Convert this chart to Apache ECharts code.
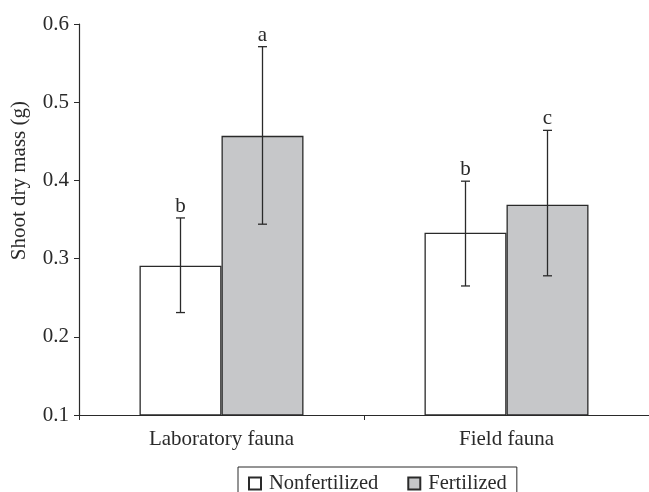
<!DOCTYPE html>
<html>
<head>
<meta charset="utf-8">
<script src="https://cdn.jsdelivr.net/npm/echarts@6/dist/echarts.min.js"></script>
<style>html,body{margin:0;padding:0;background:#fff;}#c{width:649px;height:492px;}</style>
</head>
<body>
<div id="c"></div>
<script>
var categories = ['Laboratory fauna', 'Field fauna'];
var seriesNames = ['Nonfertilized', 'Fertilized'];
var nonfertMean = [0.291, 0.333];
var nonfertLow  = [0.231, 0.265];
var nonfertHigh = [0.352, 0.399];
var fertMean = [0.457, 0.369];
var fertLow  = [0.344, 0.278];
var fertHigh = [0.571, 0.464];
var nonfertLetters = ['b', 'b'];
var fertLetters = ['a', 'c'];
var yTicks = [0.1, 0.2, 0.3, 0.4, 0.5, 0.6];

var BAR_W = 82;
var FONT = '"Liberation Serif", "DejaVu Serif", serif';
var INK = '#2a2a2a';

function errSeries(lows, highs, letters, offset) {
  return {
    type: 'custom',
    silent: true,
    z: 5,
    data: lows.map(function (l, i) { return [i, l, highs[i]]; }),
    renderItem: function (params, api) {
      var lo = api.coord([api.value(0), api.value(1)]);
      var hi = api.coord([api.value(0), api.value(2)]);
      var x = lo[0] + offset;
      var cap = 4.5;
      var st = { stroke: INK, lineWidth: 1.3 };
      return {
        type: 'group',
        children: [
          { type: 'line', shape: { x1: x, y1: lo[1], x2: x, y2: hi[1] }, style: st },
          { type: 'line', shape: { x1: x - cap, y1: lo[1], x2: x + cap, y2: lo[1] }, style: st },
          { type: 'line', shape: { x1: x - cap, y1: hi[1], x2: x + cap, y2: hi[1] }, style: st },
          { type: 'text', style: { text: letters[params.dataIndex], x: x, y: hi[1] - 1,
              textAlign: 'center', textVerticalAlign: 'bottom', fill: INK, font: '21px ' + FONT } }
        ]
      };
    }
  };
}

var chart = echarts.init(document.getElementById('c'), null, { renderer: 'canvas' });
chart.setOption({
  animation: false,
  backgroundColor: '#fff',
  textStyle: { fontFamily: FONT, color: INK },
  grid: { left: 79, top: 24, width: 574, height: 391, containLabel: false },
  legend: {
    data: seriesNames,
    left: 238,
    top: 467,
    padding: [6, 10, 14, 10],
    itemWidth: 12,
    itemHeight: 12,
    itemGap: 29,
    borderColor: INK,
    borderWidth: 1,
    icon: 'rect',
    textStyle: { fontFamily: FONT, fontSize: 20.5, color: INK, padding: [0, 0, 0, 3] }
  },
  graphic: [{
    type: 'text',
    left: 9,
    top: 101,
    rotation: Math.PI / 2,
    style: { text: 'Shoot dry mass (g)', font: '21px ' + FONT, fill: INK }
  }],
  xAxis: {
    type: 'category',
    data: categories,
    axisLine: { lineStyle: { color: INK, width: 1.2 } },
    axisTick: { show: true, length: 5, lineStyle: { color: INK } },
    axisLabel: { fontFamily: FONT, fontSize: 21, color: INK, margin: 14 }
  },
  yAxis: {
    type: 'value',
    min: 0.1,
    max: 0.6,
    interval: 0.1,
    splitLine: { show: false },
    axisLine: { show: true, lineStyle: { color: INK, width: 1.2 } },
    axisTick: { show: true, length: 5, lineStyle: { color: INK } },
    axisLabel: { fontFamily: FONT, fontSize: 21, color: INK, margin: 10,
      formatter: function (v) { return (+v).toFixed(1); } }
  },
  series: [
    { name: seriesNames[0], type: 'bar', data: nonfertMean, barWidth: BAR_W, barGap: '0%',
      itemStyle: { color: '#ffffff', borderColor: INK, borderWidth: 1.3 } },
    { name: seriesNames[1], type: 'bar', data: fertMean, barWidth: BAR_W, barGap: '0%',
      itemStyle: { color: '#c6c7c9', borderColor: INK, borderWidth: 1.3 } },
    errSeries(nonfertLow, nonfertHigh, nonfertLetters, -BAR_W / 2),
    errSeries(fertLow, fertHigh, fertLetters, BAR_W / 2)
  ]
});
</script>
</body>
</html>
